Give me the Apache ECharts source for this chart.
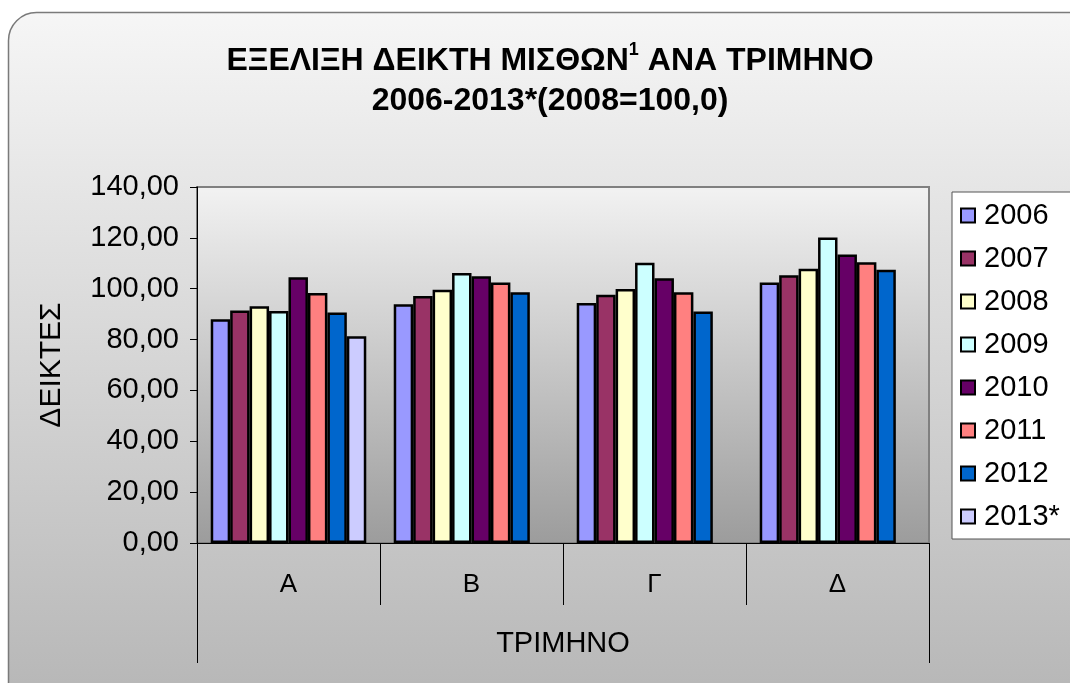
<!DOCTYPE html>
<html>
<head>
<meta charset="utf-8">
<script src="https://cdn.jsdelivr.net/npm/echarts@6/dist/echarts.min.js"></script>
<style>
html,body{margin:0;padding:0;background:#fff;}
#chart{width:1070px;height:683px;}
</style>
</head>
<body>
<div id="chart"></div>
<script>
const categories = ['Α', 'Β', 'Γ', 'Δ'];
const years = ['2006', '2007', '2008', '2009', '2010', '2011', '2012', '2013*'];
const v2006 = [88.0, 93.9, 94.4, 102.4];
const v2007 = [91.4, 97.1, 97.6, 105.3];
const v2008 = [93.1, 99.6, 99.9, 107.9];
const v2009 = [91.2, 106.2, 110.2, 120.1];
const v2010 = [104.5, 104.9, 104.1, 113.5];
const v2011 = [98.3, 102.4, 98.6, 110.4];
const v2012 = [90.6, 98.6, 91.0, 107.5];
const v2013 = [81.3, null, null, null];
const yTicks = [0, 20, 40, 60, 80, 100, 120, 140];
const colors = ['#9999FF', '#993366', '#FFFFCC', '#CCFFFF', '#660066', '#FF8080', '#0066CC', '#CCCCFF'];

const seriesValues = [v2006, v2007, v2008, v2009, v2010, v2011, v2012, v2013];
const FONT = 'Liberation Sans, Arial, sans-serif';

const chart = echarts.init(document.getElementById('chart'), null, {renderer: 'canvas'});
chart.setOption({
  animation: false,
  graphic: [{
    type: 'rect',
    z: -10,
    silent: true,
    shape: {x: 8.5, y: 12.5, width: 1120, height: 720, r: 28},
    style: {
      fill: new echarts.graphic.LinearGradient(0, 0, 0, 1, [
        {offset: 0, color: '#f6f6f6'},
        {offset: 0.93, color: '#b8b8b8'},
        {offset: 1, color: '#b4b4b4'}
      ]),
      stroke: '#7a7a7a',
      lineWidth: 1.5
    }
  }],
  title: {
    text: '{t|ΕΞΕΛΙΞΗ ΔΕΙΚΤΗ ΜΙΣΘΩΝ}{s|1}{t| ΑΝΑ ΤΡΙΜΗΝΟ}\n{t|2006-2013*(2008=100,0)}',
    left: 545,
    textAlign: 'center',
    top: 36,
    textStyle: {
      rich: {
        t: {fontFamily: FONT, fontWeight: 'bold', fontSize: 32, color: '#000', lineHeight: 40},
        s: {fontFamily: FONT, fontWeight: 'bold', fontSize: 18, color: '#000', verticalAlign: 'top', lineHeight: 40, padding: [0, 0, 14, 0]}
      }
    }
  },
  legend: {
    orient: 'vertical',
    left: 952,
    top: 192,
    data: years,
    backgroundColor: '#ffffff',
    borderColor: '#555',
    borderWidth: 1,
    padding: [9, 40, 8, 8],
    itemGap: 14,
    itemWidth: 14,
    itemHeight: 14,
    icon: 'rect',
    textStyle: {fontFamily: FONT, fontSize: 29, color: '#000', padding: [0, 0, 0, 4]}
  },
  grid: {
    left: 197,
    right: 141,
    top: 187,
    bottom: 140,
    show: true,
    borderColor: '#808080',
    borderWidth: 2,
    backgroundColor: new echarts.graphic.LinearGradient(0, 0, 0, 1, [
      {offset: 0, color: '#f2f2f2'},
      {offset: 1, color: '#9c9c9c'}
    ])
  },
  xAxis: [{
    type: 'category',
    data: categories,
    position: 'bottom',
    axisLine: {lineStyle: {color: '#000', width: 1}},
    axisTick: {show: true, length: 62, alignWithLabel: false, lineStyle: {color: '#000', width: 1}},
    axisLabel: {fontFamily: FONT, fontSize: 26, color: '#000', margin: 29},
    name: 'ΤΡΙΜΗΝΟ',
    nameLocation: 'middle',
    nameGap: 86,
    nameTextStyle: {fontFamily: FONT, fontSize: 29, color: '#000'}
  }, {
    type: 'category',
    data: [''],
    position: 'bottom',
    axisLine: {show: false},
    axisTick: {show: true, length: 120, lineStyle: {color: '#000', width: 1}},
    axisLabel: {show: false}
  }],
  yAxis: {
    type: 'value',
    min: yTicks[0],
    max: yTicks[yTicks.length - 1],
    interval: 20,
    axisLine: {show: true, lineStyle: {color: '#000', width: 1}},
    axisTick: {show: true, length: 7, lineStyle: {color: '#000'}},
    splitLine: {show: false},
    axisLabel: {
      fontFamily: FONT, fontSize: 29, color: '#000', margin: 18,
      formatter: v => v.toFixed(2).replace('.', ',')
    },
    name: 'ΔΕΙΚΤΕΣ',
    nameLocation: 'middle',
    nameGap: 130,
    nameRotate: 90,
    nameTextStyle: {fontFamily: FONT, fontSize: 30, color: '#000'}
  },
  series: years.map((y, i) => ({
    name: y,
    type: 'bar',
    xAxisIndex: 0,
    data: seriesValues[i],
    barGap: '0%',
    barCategoryGap: '15%',
    itemStyle: {color: colors[i], borderColor: '#000', borderWidth: 2.5}
  }))
});
</script>
</body>
</html>
